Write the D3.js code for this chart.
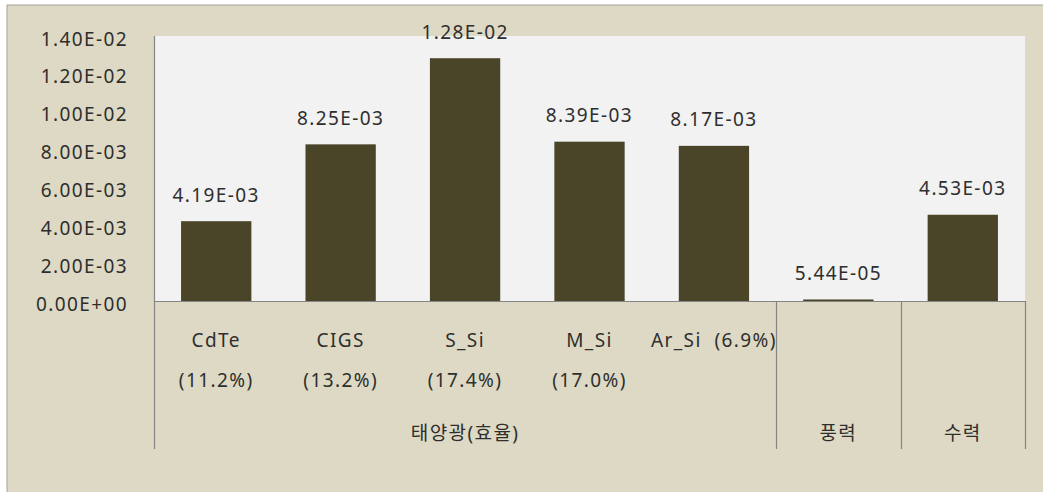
<!DOCTYPE html>
<html><head><meta charset="utf-8">
<script src="https://cdn.jsdelivr.net/npm/d3@7"></script>
<style>
html,body{margin:0;padding:0;background:#fff;}
svg text{font-family:"Noto Sans","Noto Sans CJK KR",sans-serif;fill:#2e2e2e;letter-spacing:1.4px;}
</style></head><body>
<svg id="c" width="1043" height="492"></svg>
<script>
const categories = ["CdTe","CIGS","S_Si","M_Si","Ar_Si","풍력","수력"];
const labelLine1 = ["CdTe","CIGS","S_Si","M_Si","Ar_Si  (6.9%)","",""];
const labelLine2 = ["(11.2%)","(13.2%)","(17.4%)","(17.0%)","","",""];
const values = [4.19e-3, 8.25e-3, 1.28e-2, 8.39e-3, 8.17e-3, 5.44e-5, 4.53e-3];
const valueLabels = ["4.19E-03","8.25E-03","1.28E-02","8.39E-03","8.17E-03","5.44E-05","4.53E-03"];
const yTicks = [0, 0.002, 0.004, 0.006, 0.008, 0.010, 0.012, 0.014];
const yTickLabels = ["0.00E+00","2.00E-03","4.00E-03","6.00E-03","8.00E-03","1.00E-02","1.20E-02","1.40E-02"];
const groups = [{name:"태양광(효율)", from:0, to:4},{name:"풍력", from:5, to:5},{name:"수력", from:6, to:6}];

const svg = d3.select("#c");
const W = 1043, H = 492;
const plot = {l:154, r:1025, t:36, b:301};
const FONT = '"Noto Sans","Noto Sans CJK KR",sans-serif';

// outer chart area
svg.append("rect").attr("x",7).attr("y",5).attr("width",W).attr("height",H)
  .attr("fill","#DDD9C4").attr("stroke","#a3a39a").attr("stroke-width",1);
// plot area
svg.append("rect").attr("x",plot.l).attr("y",plot.t).attr("width",plot.r-plot.l).attr("height",plot.b-plot.t)
  .attr("fill","#F2F2F2");

const x = d3.scaleBand().domain(categories).range([plot.l, plot.r]).paddingInner(0.435).paddingOuter(0.2175);
const y = d3.scaleLinear().domain([0, 0.014]).range([plot.b, plot.t]);

// bars
svg.append("g").selectAll("rect").data(values).join("rect")
  .attr("x",(d,i)=>x(categories[i]))
  .attr("y",d=>y(d)-0.5)
  .attr("width",x.bandwidth())
  .attr("height",d=>Math.max(1.5, plot.b - y(d)+0.5))
  .attr("fill","#4A4429");

// value labels
svg.append("g").selectAll("text").data(values).join("text")
  .attr("x",(d,i)=>x(categories[i])+x.bandwidth()/2)
  .attr("y",d=>y(d)-20)
  .attr("text-anchor","middle")
  .attr("font-size",19)
  .text((d,i)=>valueLabels[i]);

// y axis labels
const yAxis = d3.axisLeft(y).tickValues(yTicks).tickFormat((d,i)=>yTickLabels[i]).tickSize(0).tickPadding(0);
const gy = svg.append("g").attr("transform","translate(128,3)").call(yAxis);
gy.select(".domain").remove();
gy.selectAll("text").attr("font-size",19).attr("fill","#2e2e2e").style("font-family",FONT).style("letter-spacing","1.4px");

// axis lines
const lineColor = "#858585";
svg.append("line").attr("x1",plot.l).attr("x2",plot.r).attr("y1",plot.b+0.5).attr("y2",plot.b+0.5)
  .attr("stroke",lineColor).attr("stroke-width",1.2);
svg.append("line").attr("x1",plot.l+0.5).attr("x2",plot.l+0.5).attr("y1",plot.t).attr("y2",449)
  .attr("stroke",lineColor).attr("stroke-width",1.2);
// group separators
const cw = (plot.r-plot.l)/categories.length;
const bounds = groups.map(g=>g.to+1);
svg.append("g").selectAll("line").data(bounds).join("line")
  .attr("x1",d=>Math.round(plot.l + d*cw)+0.5)
  .attr("x2",d=>Math.round(plot.l + d*cw)+0.5)
  .attr("y1",plot.b).attr("y2",449)
  .attr("stroke",lineColor).attr("stroke-width",1.2);

// category labels
const cat = svg.append("g");
cat.selectAll("text.l1").data(categories).join("text").attr("class","l1")
  .attr("x",(d,i)=>x(d)+x.bandwidth()/2).attr("y",347)
  .attr("text-anchor","middle").attr("font-size",19)
  .attr("xml:space","preserve")
  .text((d,i)=>labelLine1[i]);
cat.selectAll("text.l2").data(categories).join("text").attr("class","l2")
  .attr("x",(d,i)=>x(d)+x.bandwidth()/2).attr("y",387)
  .attr("text-anchor","middle").attr("font-size",19)
  .text((d,i)=>labelLine2[i]);

// group labels
svg.append("g").selectAll("text").data(groups).join("text")
  .attr("x",d=>plot.l + (d.from + (d.to-d.from+1)/2)*cw)
  .attr("y",440).attr("text-anchor","middle").attr("font-size",19)
  .text(d=>d.name);
</script></body></html>
